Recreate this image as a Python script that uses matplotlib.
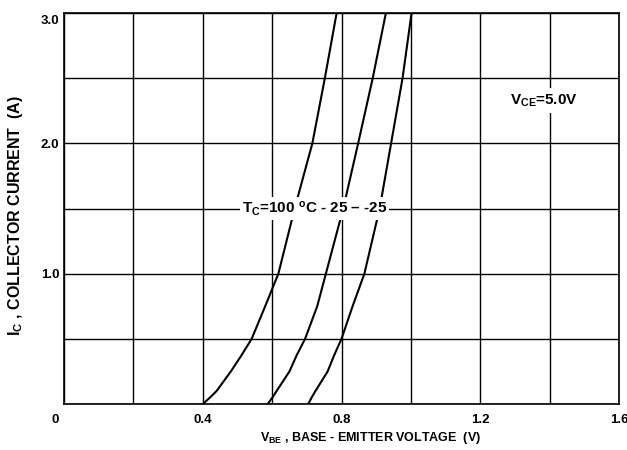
import numpy as np
import matplotlib
matplotlib.use("Agg")
import matplotlib.pyplot as plt
import matplotlib.transforms as mtransforms

# Data
ic = [0.0, 0.05, 0.1, 0.25, 0.375, 0.5, 0.75, 1.0, 1.5, 2.0, 2.5, 3.0]
vbe_100 = [0.400, 0.421, 0.440, 0.481, 0.512, 0.541, 0.580, 0.618, 0.665, 0.716, 0.752, 0.786]
vbe_25 = [0.587, 0.601, 0.613, 0.650, 0.671, 0.695, 0.730, 0.755, 0.805, 0.848, 0.890, 0.928]
vbe_m25 = [0.704, 0.714, 0.725, 0.760, 0.779, 0.800, 0.832, 0.866, 0.910, 0.943, 0.976, 1.002]

x_ticks = [0, 0.4, 0.8, 1.2, 1.6]
x_ticklabels = ["0", "0.4", "0.8", "1.2", "1.6"]
y_ticks = [1.0, 2.0, 3.0]
y_ticklabels = ["1.0", "2.0", "3.0"]

plt.rcParams['font.family'] = ['Liberation Sans', 'DejaVu Sans']
plt.rcParams['font.weight'] = 'bold'
plt.rcParams['mathtext.fontset'] = 'custom'
plt.rcParams['mathtext.rm'] = 'Liberation Sans:bold'
plt.rcParams['mathtext.bf'] = 'Liberation Sans:bold'
plt.rcParams['mathtext.it'] = 'Liberation Sans:bold'
plt.rcParams['mathtext.default'] = 'rm'

fig = plt.figure(figsize=(6.27, 4.5), dpi=100)
ax = fig.add_axes([64/627, 1-404/450, 555/627, 391/450])

for v in (vbe_100, vbe_25, vbe_m25):
    ax.plot(v, ic, color='black', lw=1.5, zorder=3)

ax.set_xlim(0, 1.6)
ax.set_ylim(0, 3.0)
ax.set_xticks(x_ticks)
ax.set_xticklabels(x_ticklabels, fontsize=9.5, fontweight='bold')
ax.set_yticks(y_ticks)
ax.set_yticklabels(y_ticklabels, fontsize=9.5, fontweight='bold')
ax.set_xticks(np.arange(0, 1.61, 0.2), minor=True)
ax.set_yticks(np.arange(0, 3.01, 0.5), minor=True)
ax.tick_params(which='both', length=0)
ax.tick_params(axis='x', pad=7.5)
ax.tick_params(axis='y', pad=3.5)
ax.grid(which='both', color='black', lw=1.0)
for s in ax.spines.values():
    s.set_linewidth(1.2)

# shift the "0" x tick label left, and the top y label down (as in reference)
lbl0 = ax.get_xticklabels()[0]
lbl0.set_transform(lbl0.get_transform() + mtransforms.ScaledTranslation(-9/100, 0, fig.dpi_scale_trans))
lbl3 = ax.get_yticklabels()[-1]
lbl3.set_transform(lbl3.get_transform() + mtransforms.ScaledTranslation(0, -6/100, fig.dpi_scale_trans))

ax.text(0.722, 1.5, r"T$_C$=100 $^{o}$C - 25 – -25", ha='center', va='center',
        fontsize=11, fontweight='bold', zorder=5,
        bbox=dict(facecolor='white', edgecolor='none', pad=1.5))
ax.text(1.285, 2.33, r"V$_{CE}$=5.0V", ha='left', va='center', fontsize=11,
        fontweight='bold', zorder=5,
        bbox=dict(facecolor='white', edgecolor='none', pad=3))

ax.set_xlabel(r"V$_{BE}$ , BASE - EMITTER VOLTAGE  (V)", fontsize=9, fontweight='bold')
ax.xaxis.set_label_coords(0.552, -0.066)
ax.set_ylabel(r"I$_C$ , COLLECTOR CURRENT  (A)", fontsize=11.5, fontweight='bold')
ax.yaxis.set_label_coords(-0.070, 0.483)

fig.savefig("out.png", dpi=100)
